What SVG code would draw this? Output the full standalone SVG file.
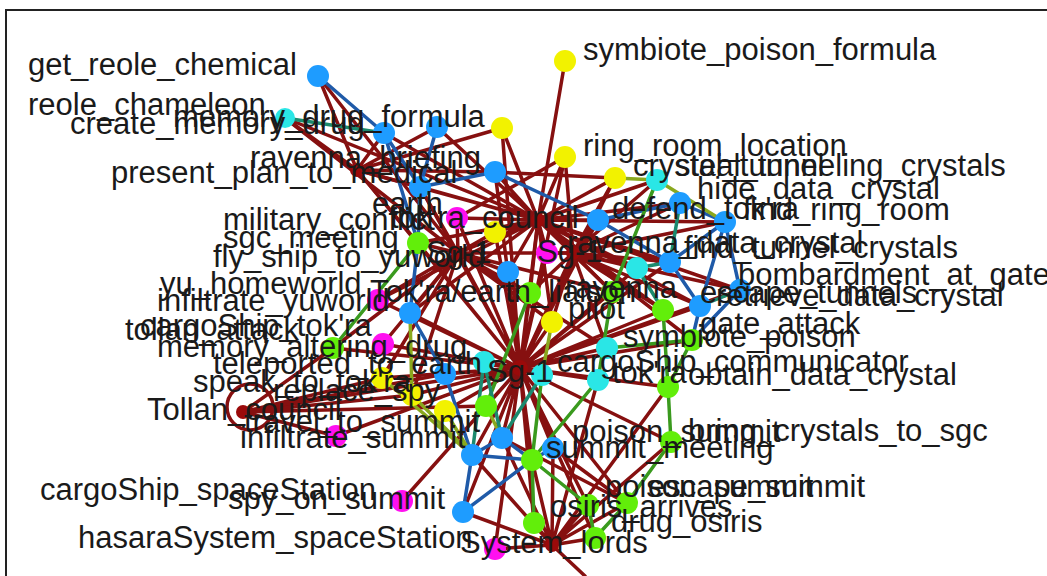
<svg xmlns="http://www.w3.org/2000/svg" width="1047" height="576" viewBox="0 0 1047 576">
<style>
.r{stroke:#861010;stroke-width:3.5;fill:none;stroke-linecap:round}
.b{stroke:#1f5aa8;stroke-width:3.5;fill:none;stroke-linecap:round}
.g{stroke:#3a9a1e;stroke-width:3.5;fill:none;stroke-linecap:round}
.o{stroke:#8aa81e;stroke-width:3.5;fill:none;stroke-linecap:round}
.t{stroke:#1b8a6e;stroke-width:3.5;fill:none;stroke-linecap:round}
.nb{fill:#1e9cff}.nc{fill:#2ae6e6}.ng{fill:#62ee0a}.nm{fill:#ff10f0}.ny{fill:#f2f200}.nh{fill:#9a0a0a}
.lb{font-family:"Liberation Sans",Arial,sans-serif;font-size:31px;fill:#1a1a1a}
</style>
<rect width="1047" height="576" fill="#ffffff"/>
<path d="M6 577V10H1048" stroke="#222" stroke-width="2" fill="none"/>
<g id="connectors">
<path class="r" d="M520 368L410 313M520 368L445 374M520 368L502 438M520 368L472 455M520 368L553 448M520 368L463 512M520 368L486 406M520 368L532 460M520 368L588 505M520 368L534 523M520 368L627 503M520 368L595 538M520 368L671 442M520 368L668 387M520 368L692 340M520 368L663 310M520 368L612 292M520 368L530 293M520 368L552 322M520 368L382 378M520 368L412 395M520 368L445 411M520 368L484 362M520 368L542 375M520 368L607 348M520 368L598 380M520 368L378 300M520 368L383 344M520 368L336 436M520 368L402 501M520 368L495 549M520 368L333 348M520 368L670 262M520 368L700 306M520 368L740 290M520 368L357 170M520 368L538 220M520 368L243 412M520 368L573 253M520 368L458 253M520 368L502 128M520 368L495 172M520 368L420 187M520 368L495 232M520 368L457 218M520 368L547 253M520 368L598 220M520 368L637 268M520 368L565 157M520 368L615 178M520 368L508 272M520 368L418 243"/>
<path class="r" d="M538 220L565 61M538 220L502 128M538 220L565 157M538 220L615 178M538 220L384 133M538 220L437 127M538 220L420 187M538 220L495 172M538 220L457 218M538 220L547 253M538 220L495 232M538 220L418 243M538 220L530 293M538 220L612 292M538 220L637 268M538 220L598 220M538 220L680 203M538 220L725 222M538 220L357 170M538 220L458 253M538 220L573 253M538 220L670 262M538 220L657 180M538 220L378 300M538 220L410 313M538 220L552 322M538 220L663 310M538 220L692 340M538 220L740 290M538 220L700 306M538 220L508 272M538 220L285 118"/>
<path class="r" d="M458 253L285 118M458 253L418 243M458 253L378 300M458 253L410 313M458 253L333 348M458 253L383 344M458 253L382 378M458 253L412 395M458 253L530 293M458 253L552 322M458 253L457 218M458 253L573 253M458 253L508 272M458 253L495 232M458 253L420 187M458 253L318 76M458 253L607 348M458 253L612 292"/>
<path class="r" d="M573 253L598 220M573 253L725 222M573 253L670 262M573 253L637 268M573 253L612 292M573 253L663 310M573 253L740 290M573 253L552 322M573 253L530 293M573 253L547 253M573 253L615 178M573 253L680 203M573 253L700 306M573 253L607 348M573 253L565 157M573 253L657 180"/>
<path class="r" d="M357 170L318 76M357 170L285 118M357 170L384 133M357 170L420 187M357 170L418 243M357 170L437 127M357 170L502 128M357 170L495 172"/>
<path class="r" d="M243 412L336 436M243 412L333 348M243 412L382 378M243 412L445 374M243 412L486 406M243 412L412 395"/>
<circle class="r" cx="250" cy="407" r="23"/>
<path class="r" d="M552 545L495 549M552 545L463 512M552 545L534 523M552 545L595 538M552 545L588 505M552 545L627 503M552 545L553 448M552 545L671 442M552 545L598 380M552 545L532 460M552 545L472 455M552 545L502 438M552 545L585 576M552 545L668 387"/>
<path class="r" d="M615 178L495 172M565 157L457 218M553 448L627 503M502 438L627 503"/>
<path class="b" d="M318 76L384 133M384 133L420 187M384 133L418 243M437 127L420 187M420 187L495 172M495 172L598 220M420 187L418 243M418 243L410 313M410 313L445 374M445 374L472 455M502 438L472 455M472 455L463 512M463 512L532 460M472 455L532 460M502 438L532 460M553 448L532 460M598 220L680 203M725 222L670 262M725 222L740 290M725 222L700 306M670 262L700 306M740 290L692 340M700 306L692 340M598 220L670 262M680 203L725 222"/>
<path class="g" d="M333 348L418 243M530 293L486 406M657 180L612 292M612 292L598 380M692 340L668 387M668 387L671 442M671 442L627 503M627 503L595 538M532 460L588 505M588 505L595 538M598 380L532 460M532 460L534 523M542 375L532 460M607 348L692 340M663 310L668 387"/>
<path class="o" d="M615 178L657 180M657 180L725 222M410 313L412 395M382 378L472 455M412 395L472 455M445 411L472 455M486 406L502 438M552 322L542 375"/>
<path class="t" d="M285 118L384 133M484 362L502 438M484 362L472 455M542 375L502 438M700 306L740 290M637 268L663 310M680 203L670 262M637 268L670 262"/>
</g>
<g id="nodes">
<g id="n-b1"><circle class="nb" cx="318" cy="76" r="11"/></g>
<g id="n-b2"><circle class="nb" cx="384" cy="133" r="11"/></g>
<g id="n-b3"><circle class="nb" cx="437" cy="127" r="11"/></g>
<g id="n-b4"><circle class="nb" cx="420" cy="187" r="11"/></g>
<g id="n-b5"><circle class="nb" cx="495" cy="172" r="11"/></g>
<g id="n-b6"><circle class="nb" cx="508" cy="272" r="11"/></g>
<g id="n-b7"><circle class="nb" cx="410" cy="313" r="11"/></g>
<g id="n-b8"><circle class="nb" cx="445" cy="374" r="11"/></g>
<g id="n-b10"><circle class="nb" cx="502" cy="438" r="11"/></g>
<g id="n-b11"><circle class="nb" cx="472" cy="455" r="11"/></g>
<g id="n-b12"><circle class="nb" cx="553" cy="448" r="11"/></g>
<g id="n-b13"><circle class="nb" cx="463" cy="512" r="11"/></g>
<g id="n-b15"><circle class="nb" cx="680" cy="203" r="11"/></g>
<g id="n-b16"><circle class="nb" cx="725" cy="222" r="11"/></g>
<g id="n-b17"><circle class="nb" cx="670" cy="262" r="11"/></g>
<g id="n-b18"><circle class="nb" cx="700" cy="306" r="11"/></g>
<g id="n-b19"><circle class="nb" cx="740" cy="290" r="11"/></g>
<g id="n-b21"><circle class="nb" cx="598" cy="220" r="11"/></g>
<g id="n-c1"><circle class="nc" cx="285" cy="118" r="10"/></g>
<g id="n-c2"><circle class="nc" cx="657" cy="180" r="11"/></g>
<g id="n-c3"><circle class="nc" cx="637" cy="268" r="11"/></g>
<g id="n-c4"><circle class="nc" cx="484" cy="362" r="11"/></g>
<g id="n-c5"><circle class="nc" cx="542" cy="375" r="11"/></g>
<g id="n-c6"><circle class="nc" cx="607" cy="348" r="11"/></g>
<g id="n-c7"><circle class="nc" cx="598" cy="380" r="11"/></g>
<g id="n-g1"><circle class="ng" cx="418" cy="243" r="11"/></g>
<g id="n-g2"><circle class="ng" cx="530" cy="293" r="11"/></g>
<g id="n-g3"><circle class="ng" cx="612" cy="292" r="11"/></g>
<g id="n-g4"><circle class="ng" cx="663" cy="310" r="11"/></g>
<g id="n-g5"><circle class="ng" cx="692" cy="340" r="11"/></g>
<g id="n-g6"><circle class="ng" cx="333" cy="348" r="11"/></g>
<g id="n-g7"><circle class="ng" cx="486" cy="406" r="11"/></g>
<g id="n-g8"><circle class="ng" cx="532" cy="460" r="11"/></g>
<g id="n-g10"><circle class="ng" cx="588" cy="505" r="11"/></g>
<g id="n-g11"><circle class="ng" cx="534" cy="523" r="11"/></g>
<g id="n-g12"><circle class="ng" cx="627" cy="503" r="11"/></g>
<g id="n-g13"><circle class="ng" cx="595" cy="538" r="11"/></g>
<g id="n-g14"><circle class="ng" cx="671" cy="442" r="11"/></g>
<g id="n-g15"><circle class="ng" cx="668" cy="387" r="11"/></g>
<g id="n-m1"><circle class="nm" cx="457" cy="218" r="11"/></g>
<g id="n-m2"><circle class="nm" cx="547" cy="253" r="11"/></g>
<g id="n-m3"><circle class="nm" cx="378" cy="300" r="11"/></g>
<g id="n-m4"><circle class="nm" cx="383" cy="344" r="11"/></g>
<g id="n-m5"><circle class="nm" cx="336" cy="436" r="11"/></g>
<g id="n-m6"><circle class="nm" cx="402" cy="501" r="11"/></g>
<g id="n-m7"><circle class="nm" cx="495" cy="549" r="11"/></g>
<g id="n-y1"><circle class="ny" cx="565" cy="61" r="11"/></g>
<g id="n-y2"><circle class="ny" cx="502" cy="128" r="11"/></g>
<g id="n-y3"><circle class="ny" cx="565" cy="157" r="11"/></g>
<g id="n-y4"><circle class="ny" cx="615" cy="178" r="11"/></g>
<g id="n-y5"><circle class="ny" cx="495" cy="232" r="11"/></g>
<g id="n-y6"><circle class="ny" cx="552" cy="322" r="11"/></g>
<g id="n-y7"><circle class="ny" cx="382" cy="378" r="11"/></g>
<g id="n-y8"><circle class="ny" cx="412" cy="395" r="11"/></g>
<g id="n-y9"><circle class="ny" cx="445" cy="411" r="11"/></g>
<g id="n-h1"><circle class="nh" cx="520" cy="368" r="8"/></g>
<g id="n-h2"><circle class="nh" cx="357" cy="170" r="7"/></g>
<g id="n-h3"><circle class="nh" cx="538" cy="220" r="7"/></g>
<g id="n-h4"><circle class="nh" cx="243" cy="412" r="7"/></g>
<g id="n-h5"><circle class="nh" cx="573" cy="253" r="7"/></g>
<g id="n-h6"><circle class="nh" cx="552" cy="545" r="7"/></g>
<g id="n-h7"><circle class="nh" cx="458" cy="253" r="7"/></g>
</g>
<g id="labels" class="lb">
<text x="28" y="75">get_reole_chemical</text>
<text x="28" y="115">reole_chameleon</text>
<text x="173" y="127">memory_drug_formula</text>
<text x="70" y="134">create_memory_drug</text>
<text x="250" y="168">ravenna_briefing</text>
<text x="111" y="183">present_plan_to_medical</text>
<text x="583" y="60">symbiote_poison_formula</text>
<text x="583" y="156">ring_room_location</text>
<text x="633" y="176">crystal_tunnel</text>
<text x="675" y="176">steal_tunneling_crystals</text>
<text x="697" y="199">hide_data_crystal</text>
<text x="372" y="214">earth</text>
<text x="612" y="219">defend_tok'ra</text>
<text x="743" y="220">find_ring_room</text>
<text x="223" y="230">military_conflict</text>
<text x="390" y="228">tok'ra_council</text>
<text x="223" y="248">sgc_meeting</text>
<text x="567" y="253">ravenna_data_crystal</text>
<text x="684" y="258">find_tunnel_crystals</text>
<text x="426" y="263">Sg-1</text>
<text x="537" y="262">Sg-1</text>
<text x="213" y="267">fly_ship_to_yuworld</text>
<text x="738" y="285">bombardment_at_gate</text>
<text x="160" y="294">yu_homeworld</text>
<text x="565" y="298">ravenna</text>
<text x="370" y="302">Tok'ra/earth_liaison</text>
<text x="700" y="303">escape_tunnels</text>
<text x="716" y="306">retrieve_data_crystal</text>
<text x="157" y="311">infiltrate_yuworld</text>
<text x="568" y="319">pilot</text>
<text x="700" y="334">gate_attack</text>
<text x="140" y="336">cargoShip_tok'ra</text>
<text x="125" y="340">tollan_attack</text>
<text x="623" y="347">symbiote_poison</text>
<text x="157" y="357">memory_altering_drug</text>
<text x="557" y="372">cargoShip_communicator</text>
<text x="213" y="374">teleported_to_earth</text>
<text x="487" y="382">Sg-1</text>
<text x="612" y="383">tok'ra</text>
<text x="688" y="385">obtain_data_crystal</text>
<text x="193" y="392">speak_to_tok'ra</text>
<text x="273" y="401">replace_spy</text>
<text x="147" y="420">Tollan_council</text>
<text x="244" y="432">travel_to_summit</text>
<text x="240" y="448">infiltrate_summit</text>
<text x="572" y="442">poison_summit</text>
<text x="688" y="441">bring_crystals_to_sgc</text>
<text x="546" y="458">summit_meeting</text>
<text x="605" y="497">poison_summit</text>
<text x="648" y="497">escape_summit</text>
<text x="40" y="500">cargoShip_spaceStation</text>
<text x="228" y="509">spy_on_summit</text>
<text x="550" y="517">osiris_arrives</text>
<text x="611" y="532">drug_osiris</text>
<text x="78" y="548">hasaraSystem_spaceStation</text>
<text x="460" y="553">System_lords</text>
</g>
</svg>
